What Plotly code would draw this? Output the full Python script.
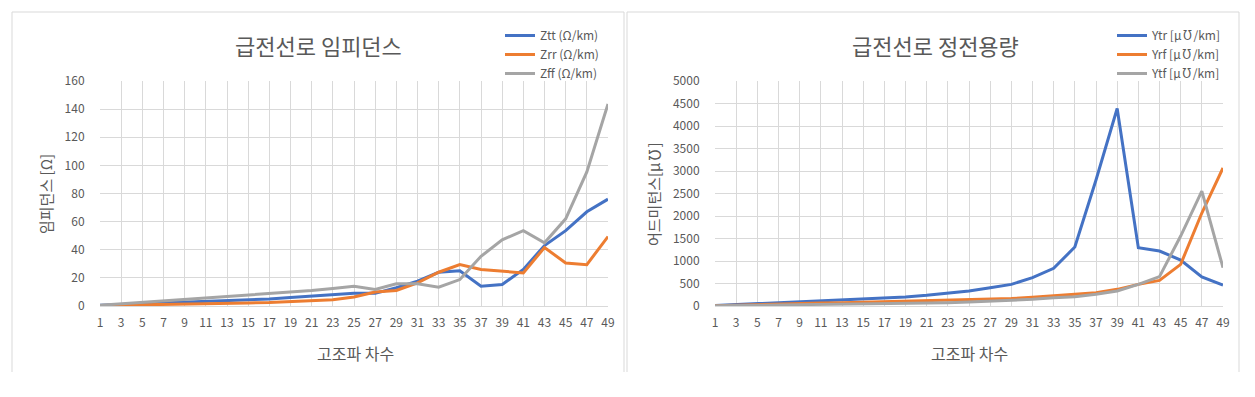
import plotly.graph_objects as go

harmonics = list(range(1, 50, 2))

# Left chart: impedance
z_tt = [0.5, 1, 1.5, 2, 2.5, 3.5, 4, 4.5, 5, 6, 7, 8, 9, 9, 13, 17.6, 24, 25, 14, 15.3, 26, 43, 53.6, 67, 76]
z_rr = [0.3, 0.5, 0.8, 1, 1.2, 1.5, 1.8, 2.2, 2.5, 3, 3.5, 4.5, 6.4, 10, 11, 16.5, 24, 29.4, 26, 25, 23.5, 41.6, 30.6, 29.4, 49.4]
z_ff = [0.5, 1.5, 2.5, 4, 5, 6, 7, 8, 9, 10, 11, 12.5, 14, 11.8, 15.8, 15.8, 13.4, 18.8, 35.3, 47, 53.6, 45, 62, 95.3, 143.7]

# Right chart: admittance
y_tr = [10, 30, 50, 70, 90, 110, 130, 150, 170, 200, 237, 281, 333, 407, 481, 630, 837, 1311, 2800, 4390, 1296, 1222, 1022, 644, 467]
y_rf = [5, 20, 35, 45, 55, 65, 75, 85, 90, 100, 115, 126, 135, 148, 165, 193, 222, 252, 296, 370, 481, 570, 926, 2067, 3067]
y_tf = [5, 10, 15, 20, 25, 30, 35, 40, 45, 55, 65, 74, 90, 104, 120, 148, 185, 207, 259, 333, 481, 652, 1555, 2555, 852]

names_left = ["Ztt (Ω/km)", "Zrr (Ω/km)", "Zff (Ω/km)"]
names_right = ["Ytr [μ℧/km]", "Yrf [μ℧/km]", "Ytf [μ℧/km]"]
colors = ["#4472C4", "#ED7D31", "#A5A5A5"]

W, H = 1255, 397
FONT = "Noto Sans CJK KR"
TXT = "#595959"
GRID = "#d9d9d9"

def px(x):
    return x / W

def py(y):
    return 1 - y / H

fig = go.Figure()
for vals, nm, c in zip([z_tt, z_rr, z_ff], names_left, colors):
    fig.add_trace(go.Scatter(x=harmonics, y=vals, name=nm, mode="lines",
                             line=dict(color=c, width=3), xaxis="x", yaxis="y", legend="legend"))
for vals, nm, c in zip([y_tr, y_rf, y_tf], names_right, colors):
    fig.add_trace(go.Scatter(x=harmonics, y=vals, name=nm, mode="lines",
                             line=dict(color=c, width=3), xaxis="x2", yaxis="y2", legend="legend2"))

xcommon = dict(range=[1, 49], tickvals=harmonics, ticktext=[str(h) for h in harmonics],
               showgrid=True, gridcolor=GRID, gridwidth=1, zeroline=False,
               showline=True, linecolor=GRID, linewidth=1, automargin=False,
               ticks="outside", ticklen=6, tickcolor="rgba(0,0,0,0)",
               tickfont=dict(family=FONT, size=12, color=TXT), fixedrange=True)
ycommon = dict(showgrid=True, gridcolor=GRID, gridwidth=1, zeroline=False, automargin=False,
               showline=False, ticks="outside", ticklen=12, tickcolor="rgba(0,0,0,0)",
               tickfont=dict(family=FONT, size=12, color=TXT), fixedrange=True)

ydom = [py(306), py(81)]
fig.update_layout(
    width=W, height=H, margin=dict(l=0, r=0, t=0, b=0, autoexpand=False),
    paper_bgcolor="white", plot_bgcolor="white",
    font=dict(family=FONT, color=TXT),
    xaxis=dict(domain=[px(100), px(608)], anchor="y", **xcommon),
    yaxis=dict(domain=ydom, anchor="x", range=[0, 160], tickvals=list(range(0, 161, 20)), **ycommon),
    xaxis2=dict(domain=[px(715), px(1223)], anchor="y2", **xcommon),
    yaxis2=dict(domain=ydom, anchor="x2", range=[0, 5000], tickvals=list(range(0, 5001, 500)), **ycommon),
    legend=dict(x=px(500), y=py(21), xanchor="left", yanchor="top",
                font=dict(family=FONT, size=12, color=TXT), bgcolor="rgba(0,0,0,0)",
                tracegroupgap=0, itemwidth=30),
    legend2=dict(x=px(1112), y=py(21), xanchor="left", yanchor="top",
                 font=dict(family=FONT, size=12, color=TXT), bgcolor="rgba(0,0,0,0)",
                 tracegroupgap=0, itemwidth=30),
    showlegend=True,
)

annotations = [
    dict(text="급전선로 임피던스", x=px(318), y=py(45), font=dict(size=22, color=TXT, family=FONT)),
    dict(text="급전선로 정전용량", x=px(935), y=py(45), font=dict(size=22, color=TXT, family=FONT)),
    dict(text="고조파 차수", x=px(355), y=py(353), font=dict(size=16, color=TXT, family=FONT)),
    dict(text="고조파 차수", x=px(969), y=py(353), font=dict(size=16, color=TXT, family=FONT)),
    dict(text="임피던스 [Ω]", x=px(45), y=py(194), textangle=-90, font=dict(size=15, color=TXT, family=FONT)),
    dict(text="어드미턴스[μ℧]", x=px(653), y=py(194), textangle=-90, font=dict(size=15, color=TXT, family=FONT)),
]
for a in annotations:
    a.update(xref="paper", yref="paper", showarrow=False, xanchor="center", yanchor="middle")
fig.update_layout(annotations=annotations)

shapes = []
for x0, x1 in [(12, 624), (627, 1239)]:
    shapes.append(dict(type="line", x0=px(x0), x1=px(x1), y0=py(12), y1=py(12)))
    shapes.append(dict(type="line", x0=px(x0), x1=px(x0), y0=py(12), y1=py(372)))
    shapes.append(dict(type="line", x0=px(x1), x1=px(x1), y0=py(12), y1=py(372)))
for s in shapes:
    s.update(xref="paper", yref="paper", line=dict(color=GRID, width=1))
fig.update_layout(shapes=shapes)

fig.write_html(
    "out.html",
    config={"displayModeBar": False},
    post_script="document.body.style.margin='0';document.body.style.overflow='hidden';",
)
